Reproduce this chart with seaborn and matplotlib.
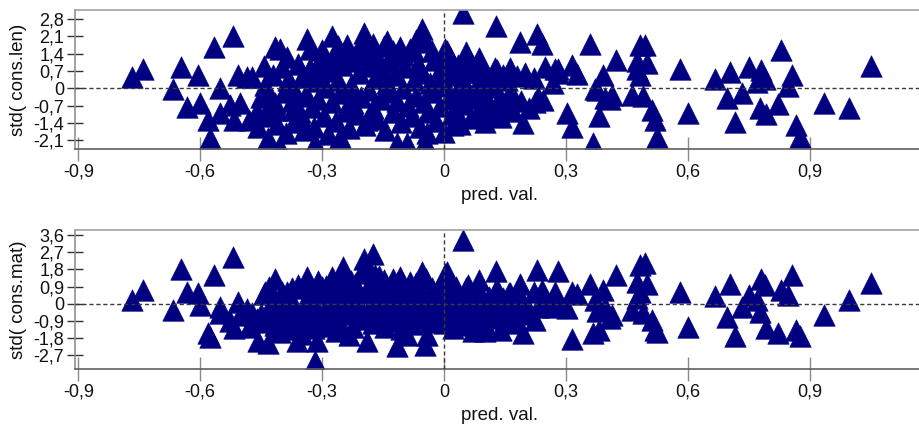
import numpy as np
import pandas as pd
import matplotlib
matplotlib.use("Agg")
import matplotlib.pyplot as plt
import seaborn as sns

# Predicted value (shared by both panels) and standardised residuals
pred_val = [
    -0.768, -0.741, -0.666, -0.647, -0.633, -0.606, -0.600, -0.580, -0.577, -0.565,
    -0.551, -0.520, -0.526, -0.551, -0.518, -0.506, -0.502, -0.485, -0.473, -0.481,
    -0.457, -0.444, -0.436, -0.432, -0.416, -0.403, -0.403, -0.387, -0.383, -0.411,
    -0.371, -0.338, -0.350, -0.317, -0.301, -0.276, -0.256, -0.248, -0.198, -0.190,
    -0.174, -0.149, -0.125, -0.108, -0.116, -0.092, -0.075, -0.055, -0.047, 0.002,
    0.047,
    -0.362, -0.313, -0.235, -0.043, 0.072, -0.374, 0.044,
    0.128, 0.187, 0.228, 0.240, 0.280, 0.359, 0.423, 0.482, 0.494, 0.498,
    0.474, 0.580, 0.828, 1.050, 0.666, 0.703, 0.751, 0.779, 0.789, 0.855,
    0.847, 0.769, 0.695, 0.734, 0.777, 0.792, 0.822, 0.716, 0.866, 0.875,
    0.935, 0.997, 0.600, 0.511, 0.519, 0.523, 0.302, 0.314, 0.380, 0.367,
    0.193, 0.175, 0.224, 0.244, 0.023, 0.101, 0.007, 0.019, 0.087, 0.072,
    0.125, 0.162, 0.248, 0.273, 0.281, 0.314, 0.327, 0.392, 0.371, 0.375,
    0.412, 0.397, 0.462, 0.474, 0.482, 0.490, 0.408, 0.269,
    -0.450, -0.440, -0.430, -0.420, -0.415, -0.410, -0.400, -0.395, -0.390, -0.380,
    -0.375, -0.370, -0.360, -0.355, -0.350, -0.345, -0.340, -0.330, -0.325, -0.320,
    -0.315, -0.310, -0.300, -0.295, -0.290, -0.285, -0.280, -0.275, -0.270, -0.265,
    -0.260, -0.255, -0.250, -0.245, -0.240, -0.235, -0.230, -0.225, -0.220, -0.215,
    -0.210, -0.205, -0.200, -0.195, -0.190, -0.185, -0.180, -0.175, -0.170, -0.165,
    -0.160, -0.155, -0.150, -0.145, -0.140, -0.135, -0.130, -0.125, -0.120, -0.115,
    -0.110, -0.105, -0.100, -0.095, -0.090, -0.085, -0.080, -0.075, -0.070, -0.065,
    -0.060, -0.055, -0.050, -0.045, -0.040, -0.035, -0.030, -0.025, -0.020, -0.015,
    -0.010, -0.005, 0.000, 0.005, 0.010, 0.015, 0.020, 0.025, 0.030, 0.035,
    0.040, 0.045, 0.050, 0.055, 0.060, 0.065, 0.070, 0.075, 0.080, 0.085,
    0.090, 0.095, 0.100, 0.105, 0.110, 0.115, 0.120, 0.125, 0.130, 0.135,
    0.140, 0.145, 0.150, 0.155, 0.160, 0.165, 0.170, 0.180, 0.190, 0.200,
    0.210, 0.220, 0.230,
    -0.330, -0.310, -0.260, -0.230, -0.210, -0.170, -0.140, -0.100, -0.070, -0.030,
    -0.440, -0.430, -0.460, 0.030, 0.060,
]

std_len = [
    0.45, 0.79, -0.01, 0.85, -0.75, 0.52, -0.61, -1.28, -2.01, 1.65,
    0.03, 2.12, -0.68, -1.01, -1.28, 0.52, -0.61, 0.45, 0.45, -1.28,
    -1.55, 0.92, -0.21, -2.01, 1.65, 1.59, -2.35, 1.25, 0.32, -0.88,
    -0.88, 1.99, -1.28, -2.21, 1.25, 2.12, -1.95, 1.39, 2.25, -1.28,
    1.79, 1.72, 1.52, 1.65, -2.21, -2.21, 1.52, 2.39, -2.15, 1.59,
    3.05,
    -0.30, 0.60, -0.10, -1.81, 0.90, 0.10, -0.40,
    2.52, 1.85, 2.19, 1.79, 0.60, 1.79, 1.15, 1.76, 1.76, 1.01,
    1.12, 0.79, 1.55, 0.88, 0.39, 0.65, 0.84, 0.73, 0.39, 0.53,
    0.11, 0.25, -0.41, -0.20, -0.81, -1.04, -0.63, -1.35, -1.48, -1.95,
    -0.60, -0.81, -0.99, -0.88, -1.28, -1.98, -1.01, -1.55, -1.13, -2.20,
    -1.41, -0.48, -0.55, -0.48, -1.48, -1.05, 1.52, 0.72, 1.23, 0.65,
    0.80, 0.80, 0.85, 0.79, 0.76, 0.96, 0.59, 0.52, -0.01, -0.08,
    -0.28, -0.40, -0.28, 0.79, 0.52, -0.30, -0.45, 0.20,
    -0.35, 0.15, -1.05, 0.55, -0.60, -1.45, 0.85, -0.15, -1.80, 0.10,
    -0.50, -1.35, 1.00, -0.95, 0.45, -1.70, -0.25, 0.80, -0.75, -1.55,
    0.30, -0.45, 1.55, -1.10, 0.05, -1.85, 0.70, -0.55, 1.20, -1.30,
    0.35, -0.20, 0.95, -0.90, 1.75, -1.60, 0.15, -0.60, 1.35, -1.05,
    0.60, -0.35, 1.90, -1.50, 0.90, -0.05, 1.45, -0.80, 0.40, -1.25,
    1.15, -0.45, 0.75, -1.70, 0.20, -0.15, 1.05, -0.95, 0.55, -0.50,
    1.30, -1.35, 0.00, 0.85, -0.70, 1.60, -1.10, 0.35, -0.30, 1.00,
    -1.55, 0.60, -0.55, 1.85, -0.95, 0.20, -0.15, 1.15, -1.30, 0.45,
    -0.70, 0.90, -1.75, 0.10, -0.45, 1.25, -1.05, 0.55, -0.25, 0.95,
    -1.45, 0.30, -0.65, 1.45, -0.05, -1.20, 0.65, -0.40, 0.15, -0.85,
    0.90, -0.20, -1.35, 0.45, -0.60, 0.25, -0.95, 0.05, 0.75, -0.45,
    -1.15, 0.55, -0.70, 0.35, -0.25, 0.70, -0.90, 0.50, -0.50, 0.60,
    -0.80, 0.40, -0.35,
    1.60, 1.00, 1.70, 1.10, 1.55, 1.30, 1.90, 1.35, 1.95, 1.50,
    -1.10, -0.70, -0.90, -0.90, 1.00,
]

std_mat = [
    0.19, 0.71, -0.33, 1.84, 0.63, 0.54, -0.07, -1.54, -1.75, 1.49,
    -0.17, 2.45, -0.90, -0.50, -1.28, 0.10, -0.60, -0.30, -0.50, -1.20,
    -1.98, 0.50, -0.80, -2.06, 1.32, 0.30, -1.50, 0.60, -0.40, -1.20,
    -0.90, 1.41, -1.60, -3.02, 0.90, 1.41, -1.30, 1.93, 2.36, -1.98,
    2.63, 1.23, 1.32, 1.41, -2.24, -1.63, 0.90, 1.67, -2.15, 1.58,
    3.37,
    -1.98, -1.98, -1.63, -1.63, -1.46, 0.80, 0.36,
    1.70, 1.06, 1.76, 0.71, 1.70, 1.06, 1.49, 2.05, 2.16, 1.06,
    1.15, 0.59, 0.71, 1.09, 0.40, 1.01, 0.45, 1.32, 0.97, 1.53,
    0.45, 0.19, -0.68, -0.16, -0.42, -1.28, -1.54, -1.72, -1.37, -1.72,
    -0.59, 0.19, -1.20, -0.85, -1.37, -1.50, -0.24, -1.84, -1.37, -1.54,
    -1.54, -1.02, -0.85, 0.19, -1.30, -1.46, 1.67, 0.90, 1.23, 0.40,
    0.63, 0.54, 0.30, 0.63, 0.10, 0.63, 0.50, 0.71, 0.19, -0.40,
    -0.59, -0.20, -0.33, 0.30, 0.60, -0.50, -0.76, -0.16,
    -0.55, -0.95, -0.25, 0.05, -1.10, -0.70, 0.60, -0.45, -1.35, 0.35,
    -0.85, -0.20, 1.00, -0.60, -1.05, -0.35, 0.20, -0.75, 0.60, -1.30,
    -0.15, -0.95, 0.50, -0.45, 0.95, -1.15, -0.30, 0.10, -0.65, -1.45,
    0.45, -1.00, 1.30, -0.10, 0.75, -0.55, 0.30, -1.25, 1.05, -0.35,
    0.00, 1.60, -0.80, 0.55, 1.90, -0.30, 0.95, -1.00, 0.25, -0.60,
    1.45, -0.15, 0.65, -1.20, -0.45, 0.35, -0.90, 0.80, -0.20, 1.10,
    -0.65, -1.35, 0.15, 0.50, -0.40, 1.15, -1.05, 0.00, 0.70, -0.25,
    -0.75, 0.30, -0.50, 1.30, 0.05, -0.95, 0.85, -0.30, -0.60, 0.40,
    -0.15, 1.00, -1.00, -0.35, 0.20, 0.60, -0.80, -0.05, 0.45, -0.55,
    -1.10, 0.10, -0.30, 0.85, -0.65, 0.25, 0.55, -0.90, -0.20, 0.65,
    -0.45, 0.15, -1.05, -0.35, 0.35, -0.75, 0.10, -0.55, 0.75, -0.25,
    -1.40, 0.30, -0.85, -0.10, 0.55, -0.60, 0.15, -0.30, 0.30, -0.55,
    -0.35, 0.60, -0.15,
    0.90, 1.20, 0.80, 1.20, 0.60, 1.50, 0.90, 0.60, 1.10, 0.70,
    0.60, 0.90, -0.80, 0.90, 1.00,
]

x_ticks = [-0.9, -0.6, -0.3, 0.0, 0.3, 0.6, 0.9]
x_tick_labels = ["-0,9", "-0,6", "-0,3", "0", "0,3", "0,6", "0,9"]
len_ticks = [-2.1, -1.4, -0.7, 0.0, 0.7, 1.4, 2.1, 2.8]
len_tick_labels = ["-2,1", "-1,4", "-0,7", "0", "0,7", "1,4", "2,1", "2,8"]
mat_ticks = [-2.7, -1.8, -0.9, 0.0, 0.9, 1.8, 2.7, 3.6]
mat_tick_labels = ["-2,7", "-1,8", "-0,9", "0", "0,9", "1,8", "2,7", "3,6"]

df = pd.DataFrame({"pred": pred_val, "len": std_len, "mat": std_mat})

sns.set_style("white")
plt.rcParams["font.family"] = ["Liberation Sans", "DejaVu Sans"]
plt.rcParams["font.size"] = 13

W, H = 920, 430
fig = plt.figure(figsize=(W / 100, H / 100), dpi=100)

navy = "#000080"


def panel(top_px, bottom_px, ycol, ylim, yticks, ylabels, ylab):
    left_px, right_px = 75, 925
    ax = fig.add_axes([left_px / W, 1 - bottom_px / H,
                       (right_px - left_px) / W, (bottom_px - top_px) / H])
    sns.scatterplot(data=df, x="pred", y=ycol, ax=ax, marker="^", s=240,
                    color=navy, edgecolor=navy, linewidth=0.4, zorder=2,
                    legend=False)
    ax.axhline(0, color="#3a3a3a", lw=1, ls=(0, (3, 2)), zorder=3)
    ax.axvline(0, color="#3a3a3a", lw=1, ls=(0, (3, 2)), zorder=3)
    ax.set_xlim(-0.908, 1.183)
    ax.set_ylim(*ylim)
    ax.set_xticks(x_ticks)
    ax.set_xticklabels(x_tick_labels)
    ax.set_yticks(yticks)
    ax.set_yticklabels(ylabels)
    ax.tick_params(axis="x", bottom=True, direction="inout", length=17, width=1,
                   color="#8a8a8a", pad=2, labelsize=13, labelcolor="#111111")
    ax.tick_params(axis="y", left=True, direction="inout", length=11.5, width=1,
                   color="#333333", pad=2, labelsize=13, labelcolor="#111111")
    for side in ["top", "left", "bottom"]:
        ax.spines[side].set_visible(True)
        ax.spines[side].set_linewidth(1.2)
    ax.spines["top"].set_color("#a0a0a0")
    ax.spines["left"].set_color("#909090")
    ax.spines["bottom"].set_color("#606060")
    ax.spines["right"].set_visible(False)
    ax.set_xlabel("pred. val.", fontsize=13.5, color="#111111")
    ax.set_ylabel(ylab, fontsize=13.5, color="#111111")
    ax.xaxis.set_label_coords(0.5, -0.27)
    ax.yaxis.set_label_coords(-0.056, 0.5)
    ax.xaxis.label.set_va("top")
    return ax


panel(10, 149, "len", (-2.45, 3.16), len_ticks, len_tick_labels, "std( cons.len)")
panel(230, 369, "mat", (-3.43, 3.87), mat_ticks, mat_tick_labels, "std( cons.mat)")

fig.savefig("out.png", dpi=100, facecolor="white")
